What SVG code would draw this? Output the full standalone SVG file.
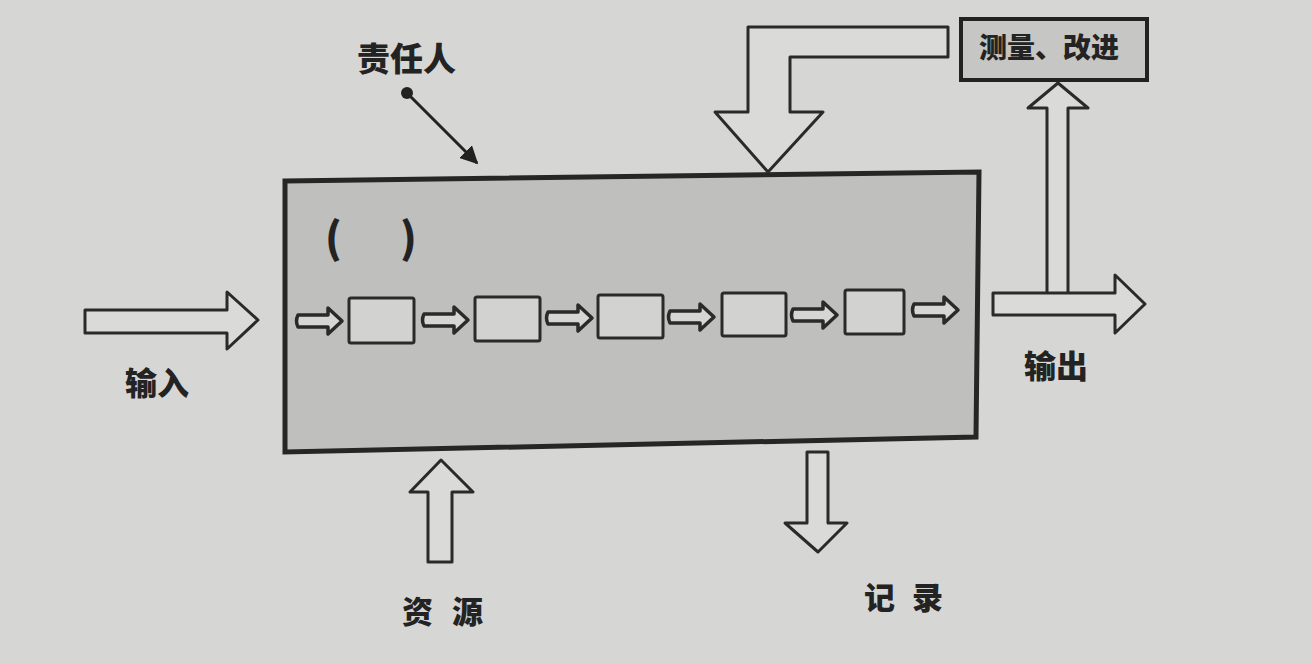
<svg xmlns="http://www.w3.org/2000/svg" width="1312" height="664" viewBox="0 0 1312 664">
  <defs>
    <style>
      .lbl { font-family: "Noto Sans CJK SC", "Noto Sans", sans-serif; font-weight: 900; fill: #232323; }
      .big { fill: #dadad8; stroke: #2a2a2a; stroke-width: 3; stroke-linejoin: round; }
      .small-arrow { fill: #d6d6d4; stroke: #2a2a2a; stroke-width: 3.5; stroke-linejoin: round; }
      .step { fill: #d2d2d0; stroke: #2a2a2a; stroke-width: 3; }
    </style>
    <path id="sa" d="M2,-6 H32 V-13 L46,0 L32,13 V6 H2 Q-1,0 2,-6 Z"/>
    <marker id="head" viewBox="0 0 10 10" refX="9" refY="5" markerWidth="6" markerHeight="6" orient="auto">
      <path d="M0,0 L10,5 L0,10 Z" fill="#222"/>
    </marker>
  </defs>

  <rect x="0" y="0" width="1312" height="664" fill="#d6d6d4"/>

  <g id="process">
    <polygon points="285,181 979,172 976,437 285,452" fill="#bfbfbd" stroke="#262626" stroke-width="5" stroke-linejoin="miter"/>
    <text class="lbl" x="325 362 400" y="253" font-family="Liberation Sans, sans-serif" font-size="42" font-weight="700">( )</text>
  </g>

  <g id="steps">
    <rect id="step1" class="step" x="349" y="298" width="65" height="45" rx="2"/>
    <rect id="step2" class="step" x="475" y="297" width="65" height="44" rx="2"/>
    <rect id="step3" class="step" x="598" y="295" width="65" height="43" rx="2"/>
    <rect id="step4" class="step" x="722" y="293" width="64" height="43" rx="2"/>
    <rect id="step5" class="step" x="845" y="290" width="59" height="44" rx="2"/>
  </g>

  <g id="measure">
    <rect x="961" y="19" width="186" height="61" fill="#c6c6c4" stroke="#222" stroke-width="4"/>
    <text class="lbl" x="979" y="58" font-size="28">测量、改进</text>
  </g>

  <g id="labels">
    <text id="responsible" class="lbl" x="357" y="71" font-size="33">责任人</text>
    <text id="input-label" class="lbl" x="125" y="395" font-size="32">输入</text>
    <text id="output-label" class="lbl" x="1024" y="378" font-size="32">输出</text>
    <text id="resource-label" class="lbl" x="402 437 452" y="623" font-size="31">资 源</text>
    <text id="record-label" class="lbl" x="864 898 912" y="609" font-size="31">记 录</text>
  </g>

  <g id="connectors">
    <path class="big" d="M948,27 H748 V112 H715 L768,172 L823,112 H790 V57 H948 Z"/>
    <path class="big" d="M85,310 H227 V292 L258,320 L227,349 V333 H85 Z"/>
    <path class="big" d="M1047,294 V108 H1028 L1058,83 L1088,108 H1068 V294 Z"/>
    <path class="big" d="M993,293 H1115 V275 L1145,304 L1115,333 V315 H993 Z"/>
    <path class="big" d="M428,562 V492 H410 L441,460 L473,492 H452 V562 Z"/>
    <path class="big" d="M807,452 V523 H785 L818,552 L847,523 H828 V452 Z"/>
    <circle cx="407" cy="93" r="6" fill="#222"/>
    <line x1="407" y1="93" x2="477" y2="163" stroke="#222" stroke-width="3" marker-end="url(#head)"/>
    <use href="#sa" class="small-arrow" x="296" y="321"/>
    <use href="#sa" class="small-arrow" x="422" y="320"/>
    <use href="#sa" class="small-arrow" x="546" y="318"/>
    <use href="#sa" class="small-arrow" x="668" y="317"/>
    <use href="#sa" class="small-arrow" x="791" y="315"/>
    <use href="#sa" class="small-arrow" x="912" y="310"/>
  </g>
</svg>
